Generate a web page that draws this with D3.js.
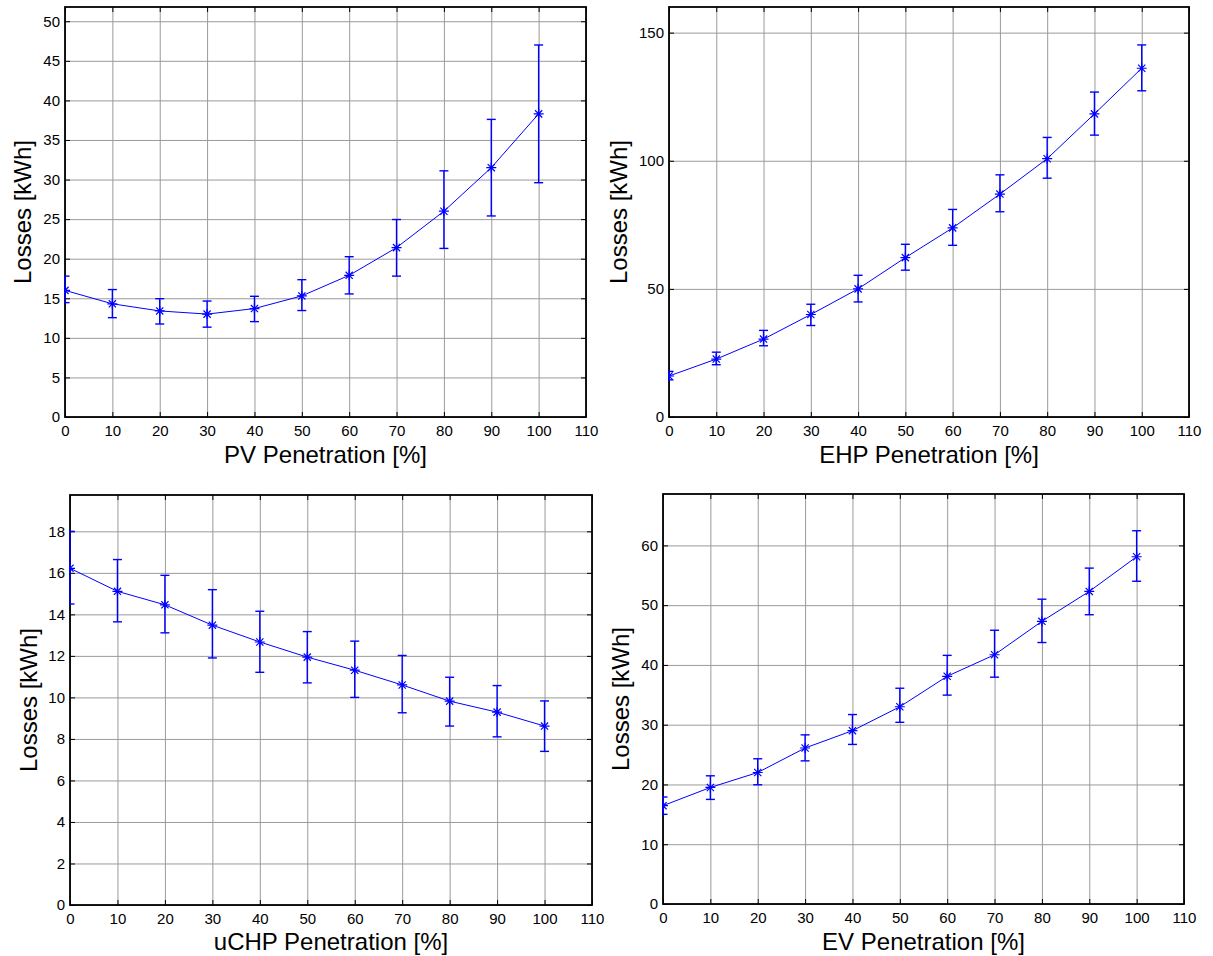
<!DOCTYPE html>
<html>
<head>
<meta charset="utf-8">
<script src="https://cdn.jsdelivr.net/npm/d3@7"></script>
<style>
  html, body { margin: 0; padding: 0; background: #fff; }
  svg { display: block; font-family: "Liberation Sans", Arial, sans-serif; }
</style>
</head>
<body>
<svg id="chart" width="1213" height="956"></svg>
<script>
// ---------- data ----------
const penetration = [0, 10, 20, 30, 40, 50, 60, 70, 80, 90, 100];
const xTicks = [0, 10, 20, 30, 40, 50, 60, 70, 80, 90, 100, 110];

const pvMean = [16.0, 14.3, 13.4, 13.0, 13.7, 15.3, 17.9, 21.4, 26.0, 31.5, 38.3];
const pvLow  = [14.45, 12.55, 11.75, 11.35, 12.05, 13.45, 15.55, 17.8, 21.3, 25.4, 29.6];
const pvHigh = [17.8, 16.1, 14.95, 14.65, 15.25, 17.35, 20.25, 24.95, 31.1, 37.6, 47.0];
const pvTicks = [0, 5, 10, 15, 20, 25, 30, 35, 40, 45, 50];

const ehpMean = [16.0, 22.6, 30.4, 40.0, 50.0, 62.2, 73.8, 87.0, 100.8, 118.3, 136.1];
const ehpLow  = [14.5, 20.4, 27.8, 35.7, 44.9, 57.3, 67.0, 80.1, 93.2, 110.0, 127.3];
const ehpHigh = [17.8, 25.3, 33.8, 44.0, 55.3, 67.4, 81.0, 94.5, 109.1, 126.8, 145.2];
const ehpTicks = [0, 50, 100, 150];

const uchpMean = [16.22, 15.11, 14.46, 13.48, 12.67, 11.94, 11.31, 10.6, 9.82, 9.29, 8.62];
const uchpLow  = [14.5, 13.64, 13.11, 11.9, 11.21, 10.7, 10.0, 9.26, 8.62, 8.1, 7.4];
const uchpHigh = [18.0, 16.64, 15.88, 15.19, 14.15, 13.17, 12.71, 12.02, 10.97, 10.57, 9.83];
const uchpTicks = [0, 2, 4, 6, 8, 10, 12, 14, 16, 18];

const evMean = [16.45, 19.5, 22.0, 26.1, 29.0, 33.0, 38.1, 41.7, 47.3, 52.3, 58.1];
const evLow  = [15.0, 17.5, 19.95, 23.95, 26.7, 30.4, 34.95, 37.95, 43.75, 48.4, 54.0];
const evHigh = [17.9, 21.45, 24.3, 28.3, 31.7, 36.1, 41.6, 45.8, 51.0, 56.2, 62.45];
const evTicks = [0, 10, 20, 30, 40, 50, 60];

// ---------- layout ----------
const panels = [
  { mean: pvMean, lo: pvLow, hi: pvHigh, yTicks: pvTicks, yMax: 51.8,
    left: 65, right: 586, top: 7, bottom: 417, xlabel: "PV Penetration [%]", ylabelX: 31, xlabelY: 463 },
  { mean: ehpMean, lo: ehpLow, hi: ehpHigh, yTicks: ehpTicks, yMax: 160,
    left: 669, right: 1189, top: 7, bottom: 417, xlabel: "EHP Penetration [%]", ylabelX: 627, xlabelY: 463 },
  { mean: uchpMean, lo: uchpLow, hi: uchpHigh, yTicks: uchpTicks, yMax: 19.75,
    left: 70, right: 592, top: 495, bottom: 905, xlabel: "uCHP Penetration [%]", ylabelX: 37, xlabelY: 950 },
  { mean: evMean, lo: evLow, hi: evHigh, yTicks: evTicks, yMax: 68.6,
    left: 663, right: 1184, top: 494, bottom: 904, xlabel: "EV Penetration [%]", ylabelX: 629, xlabelY: 950 }
];

const svg = d3.select("#chart");
const blue = "#0000ff";
const gridColor = "#9a9a9a";

panels.forEach((p, i) => {
  const x = d3.scaleLinear().domain([0, 110]).range([p.left, p.right]);
  const y = d3.scaleLinear().domain([0, p.yMax]).range([p.bottom, p.top]);
  const w = p.right - p.left, h = p.bottom - p.top;
  const g = svg.append("g");

  // grid
  const gx = g.append("g").attr("transform", `translate(0,${p.bottom})`)
    .call(d3.axisBottom(x).tickValues(xTicks).tickSize(-h).tickFormat(""));
  gx.select(".domain").remove();
  gx.selectAll("line").attr("stroke", gridColor).attr("stroke-width", 1);
  const gy = g.append("g").attr("transform", `translate(${p.left},0)`)
    .call(d3.axisLeft(y).tickValues(p.yTicks).tickSize(-w).tickFormat(""));
  gy.select(".domain").remove();
  gy.selectAll("line").attr("stroke", gridColor).attr("stroke-width", 1);

  // axes with labels (inward ticks)
  const ax = g.append("g").attr("transform", `translate(0,${p.bottom})`)
    .call(d3.axisBottom(x).tickValues(xTicks).tickSizeInner(-5).tickSizeOuter(0).tickPadding(8));
  ax.select(".domain").remove();
  ax.selectAll("line").attr("stroke", "#000");
  ax.selectAll("text").attr("font-size", 15).attr("fill", "#000")
    .attr("font-family", "Liberation Sans, Arial, sans-serif");

  const ay = g.append("g").attr("transform", `translate(${p.left},0)`)
    .call(d3.axisLeft(y).tickValues(p.yTicks).tickSizeInner(-5).tickSizeOuter(0).tickPadding(5));
  ay.select(".domain").remove();
  ay.selectAll("line").attr("stroke", "#000");
  ay.selectAll("text").attr("font-size", 15).attr("fill", "#000")
    .attr("font-family", "Liberation Sans, Arial, sans-serif");

  const at = g.append("g").attr("transform", `translate(0,${p.top})`)
    .call(d3.axisTop(x).tickValues(xTicks).tickSizeInner(-5).tickSizeOuter(0).tickFormat(""));
  at.select(".domain").remove();
  at.selectAll("line").attr("stroke", "#000");
  const ar = g.append("g").attr("transform", `translate(${p.right},0)`)
    .call(d3.axisRight(y).tickValues(p.yTicks).tickSizeInner(-5).tickSizeOuter(0).tickFormat(""));
  ar.select(".domain").remove();
  ar.selectAll("line").attr("stroke", "#000");

  // box
  g.append("rect").attr("x", p.left).attr("y", p.top).attr("width", w).attr("height", h)
    .attr("fill", "none").attr("stroke", "#000").attr("stroke-width", 1.8);

  // clip
  const clipId = "clip" + i;
  svg.append("clipPath").attr("id", clipId).append("rect")
    .attr("x", p.left - 1).attr("y", p.top).attr("width", w + 1).attr("height", h);
  const data = penetration.map((v, k) => ({ x: v, m: p.mean[k], lo: p.lo[k], hi: p.hi[k] }));
  const dg = g.append("g").attr("clip-path", `url(#${clipId})`);

  // error bars
  const eb = dg.selectAll(".eb").data(data).enter().append("g");
  eb.append("line").attr("x1", d => x(d.x)).attr("x2", d => x(d.x))
    .attr("y1", d => y(d.lo)).attr("y2", d => y(d.hi))
    .attr("stroke", blue).attr("stroke-width", 1.4);
  eb.append("line").attr("x1", d => x(d.x) - 4.5).attr("x2", d => x(d.x) + 4.5)
    .attr("y1", d => y(d.lo)).attr("y2", d => y(d.lo))
    .attr("stroke", blue).attr("stroke-width", 1.4);
  eb.append("line").attr("x1", d => x(d.x) - 4.5).attr("x2", d => x(d.x) + 4.5)
    .attr("y1", d => y(d.hi)).attr("y2", d => y(d.hi))
    .attr("stroke", blue).attr("stroke-width", 1.4);

  // line
  dg.append("path").datum(data)
    .attr("d", d3.line().x(d => x(d.x)).y(d => y(d.m)))
    .attr("fill", "none").attr("stroke", blue).attr("stroke-width", 1);

  // asterisk markers
  const r = 5, q = 3.6;
  dg.selectAll(".mk").data(data).enter().append("path")
    .attr("transform", d => `translate(${x(d.x)},${y(d.m)})`)
    .attr("d", `M${-r},0L${r},0M0,${-r}L0,${r}M${-q},${-q}L${q},${q}M${-q},${q}L${q},${-q}`)
    .attr("stroke", blue).attr("stroke-width", 1.2).attr("fill", "none");

  // labels
  g.append("text").attr("x", (p.left + p.right) / 2).attr("y", p.xlabelY)
    .attr("text-anchor", "middle").attr("font-size", 24).attr("fill", "#000")
    .text(p.xlabel);
  g.append("text")
    .attr("transform", `translate(${p.ylabelX},${(p.top + p.bottom) / 2}) rotate(-90)`)
    .attr("text-anchor", "middle").attr("font-size", 24).attr("fill", "#000")
    .text("Losses [kWh]");
});
</script>
</body>
</html>
